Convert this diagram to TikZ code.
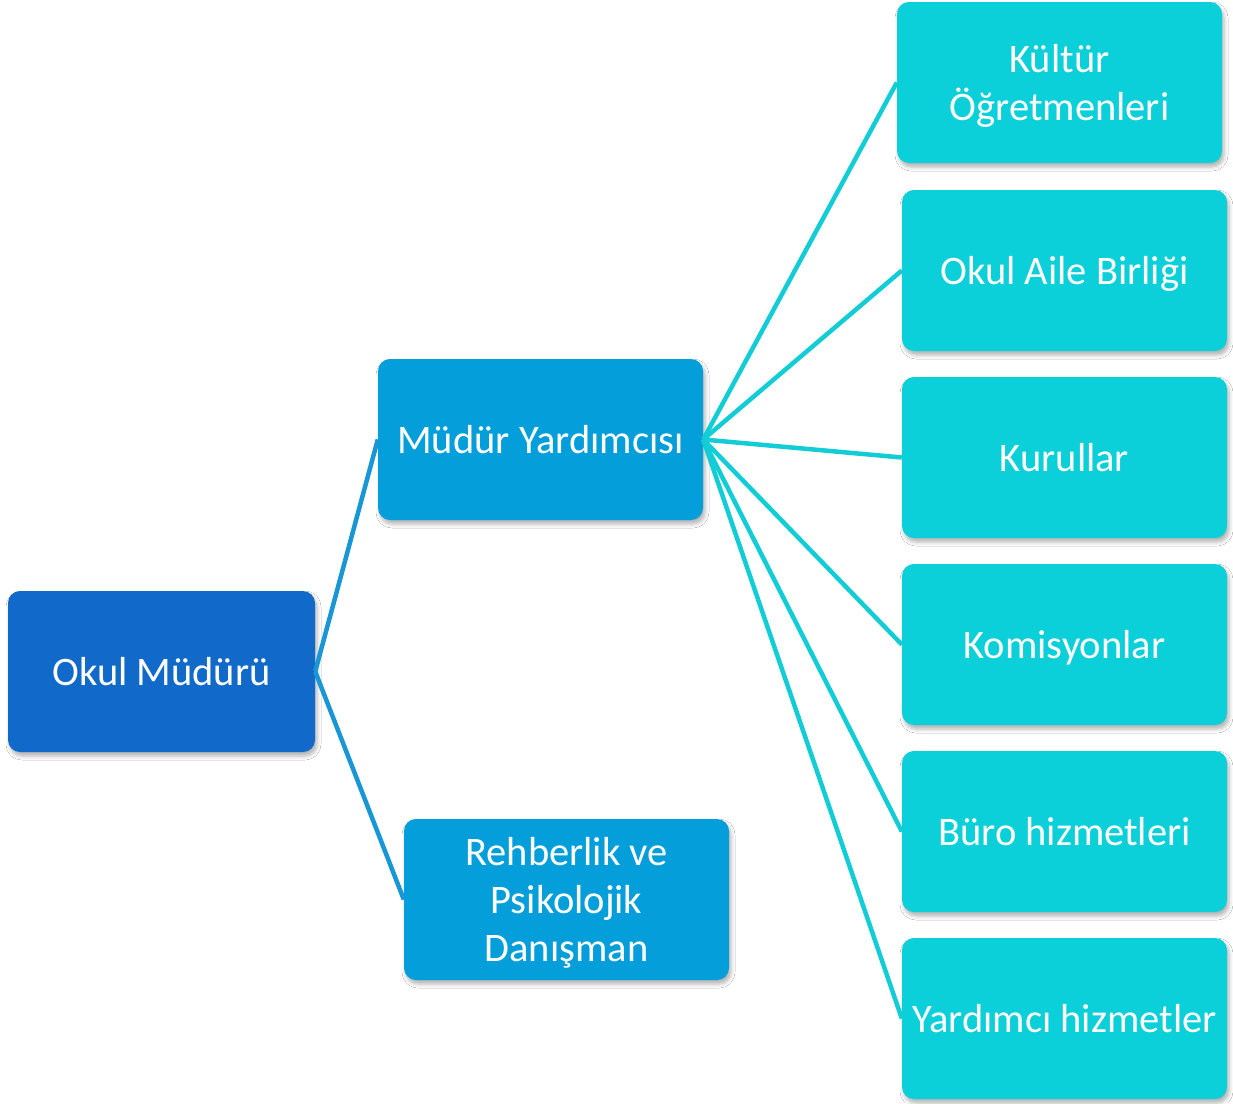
\documentclass[tikz,border=0pt]{standalone}
\usepackage{fontspec}
\setmainfont{Carlito}
\usetikzlibrary{shadows.blur}
\definecolor{cTop}{RGB}{17,106,201}
\definecolor{cMid}{RGB}{4,159,218}
\definecolor{cLeaf}{RGB}{11,207,217}
\definecolor{lMid}{RGB}{24,150,214}
\definecolor{lLeaf}{RGB}{18,205,214}
\newcommand{\boxlbl}[1]{\raisebox{-4.5pt}[\height][\depth]{\begin{tabular}{@{}c@{}}#1\end{tabular}}}
\tikzset{
  box/.style={rectangle, rounded corners=12pt, minimum width=325pt, minimum height=161pt,
    inner sep=0pt, text=white,
    font=\fontsize{40.5pt}{48pt}\selectfont,
    blur shadow={shadow xshift=2pt, shadow yshift=-4pt, shadow blur radius=4pt, shadow opacity=30}},
  topbox/.style={box, fill=cTop, minimum width=307pt},
  midbox/.style={box, fill=cMid},
  leafbox/.style={box, fill=cLeaf},
  midline/.style={draw=lMid, line width=4.5pt},
  leafline/.style={draw=lLeaf, line width=4.5pt},
}
\begin{document}
\begin{tikzpicture}[x=1pt,y=-1pt]
\useasboundingbox[fill=white] (0,0) rectangle (1233,1103);
\node[topbox] (om) at (161.5,671.5) {\boxlbl{Okul Müdürü}};
\node[midbox] (my) at (540.5,439.5) {\boxlbl{Müdür Yardımcısı}};
\node[midbox] (rp) at (566.5,899.5) {\boxlbl{Rehberlik ve\\Psikolojik\\Danışman}};
\node[leafbox] (k1) at (1059.5,82.5) {\boxlbl{Kültür\\Öğretmenleri}};
\node[leafbox] (k2) at (1064.5,270.5) {\boxlbl{Okul Aile Birliği}};
\node[leafbox] (k3) at (1064.5,457.5) {\boxlbl{Kurullar}};
\node[leafbox] (k4) at (1064.5,644.5) {\boxlbl{Komisyonlar}};
\node[leafbox] (k5) at (1064.5,831.5) {\boxlbl{Büro hizmetleri}};
\node[leafbox] (k6) at (1064.5,1018.5) {\boxlbl{Yardımcı hizmetler}};
\draw[midline] (om.east) -- (my.west);
\draw[midline] (om.east) -- (rp.west);
\foreach \n in {k1,k2,k3,k4,k5,k6}{\draw[leafline] (my.east) -- (\n.west);}
\end{tikzpicture}
\end{document}
